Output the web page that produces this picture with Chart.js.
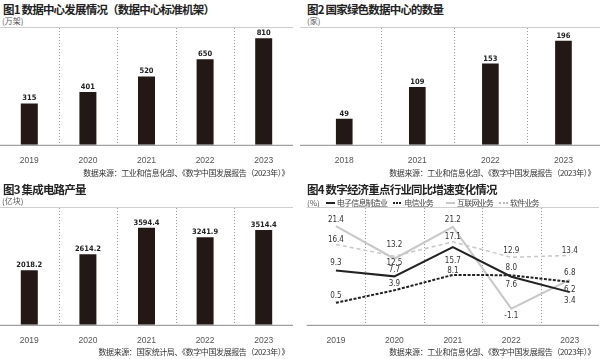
<!DOCTYPE html>
<html>
<head>
<meta charset="utf-8">
<script src="https://cdn.jsdelivr.net/npm/chart.js@4"></script>
<style>
  body { margin: 0; background: #fff; }
  #page { position: relative; width: 600px; height: 359px; overflow: hidden; font-family: "Noto Sans CJK SC", sans-serif; }
  canvas { position: absolute; }
  .title { position: absolute; font-size: 11.5px; font-weight: bold; color: #222; letter-spacing: -0.8px; line-height: 1; white-space: nowrap; }
  .unit { position: absolute; font-size: 8px; color: #555; line-height: 1; white-space: nowrap; }
  .source { position: absolute; font-size: 8px; color: #333; letter-spacing: -0.4px; line-height: 1; white-space: nowrap; text-align: right; }
  .legend { position: absolute; left: 307px; top: 197px; font-size: 8px; color: #444; line-height: 9px; white-space: nowrap; letter-spacing: -0.8px; }
  .legend span { display: inline-block; vertical-align: middle; }
  .swatch { width: 9px; height: 2px; margin: 0 2px 0 5px; }
</style>
</head>
<body>
<div id="page">
  <div class="title" style="left:3px; top:4px;">图1 数据中心发展情况（数据中心标准机架）</div>
  <div class="unit" style="left:2px; top:17px;">(万架)</div>
  <canvas id="c1" width="293" height="142" style="left:0; top:27px;"></canvas>
  <div class="source" style="right:311px; top:169px;">数据来源：工业和信息化部、《数字中国发展报告（2023年）》</div>

  <div class="title" style="left:307px; top:4px;">图2 国家绿色数据中心的数量</div>
  <div class="unit" style="left:307px; top:17px;">(家)</div>
  <canvas id="c2" width="300" height="142" style="left:300px; top:27px;"></canvas>
  <div class="source" style="right:5px; top:169px;">数据来源：工业和信息化部、《数字中国发展报告（2023年）》</div>

  <div class="title" style="left:3px; top:184px;">图3 集成电路产量</div>
  <div class="unit" style="left:2px; top:197px;">(亿块)</div>
  <canvas id="c3" width="293" height="142" style="left:0; top:207px;"></canvas>
  <div class="source" style="right:311px; top:348px;">数据来源：国家统计局、《数字中国发展报告（2023年）》</div>

  <div class="title" style="left:307px; top:184px;">图4 数字经济重点行业同比增速变化情况</div>
  <div class="legend">
    <span style="color:#555; letter-spacing:0;">(%)</span>
    <span class="swatch" style="background:#222;"></span><span>电子信息制造业</span>
    <span class="swatch" style="background:repeating-linear-gradient(90deg, #222 0 2px, transparent 2px 3px);"></span><span>电信业务</span>
    <span class="swatch" style="height:1.5px; background:#c8c8c8; margin-left:12px;"></span><span>互联网业务</span>
    <span class="swatch" style="height:1.5px; background:repeating-linear-gradient(90deg, #bbb 0 2px, transparent 2px 3.5px);"></span><span>软件业务</span>
  </div>
  <canvas id="c4" width="300" height="142" style="left:300px; top:207px;"></canvas>
  <div class="source" style="right:5px; top:348px;">数据来源：工业和信息化部、《数字中国发展报告（2023年）》</div>
</div>
<script>
// 图1 数据中心标准机架（万架）
const rackYears = ["2019", "2020", "2021", "2022", "2023"];
const rackValues = [315, 401, 520, 650, 810];

// 图2 国家绿色数据中心（家）
const greenYears = ["2018", "2021", "2022", "2023"];
const greenValues = [49, 109, 153, 196];

// 图3 集成电路产量（亿块）
const chipYears = ["2019", "2020", "2021", "2022", "2023"];
const chipValues = [2018.2, 2614.2, 3594.4, 3241.9, 3514.4];

// 图4 同比增速（%）
const growthYears = ["2019", "2020", "2021", "2022", "2023"];
const electronicMfg = [9.3, 7.7, 15.7, 7.6, 3.4];
const telecom = [0.5, 3.9, 8.1, 8.0, 6.2];
const internetBiz = [21.4, 12.5, 21.2, -1.1, 6.8];
const software = [16.4, 13.2, 17.1, 12.9, 13.4];

// label offsets (px) for chart 4, style only
const electronicDy = [-8, -6, 14, 8, 9];
const telecomDy = [-7, -6, -4, -7, 8];
const internetDy = [-6, 4, -7, 7, -7];
const softwareDy = [-5, -11, -5, -6, -5];

const BAR = "#231816";
const NARROW = '"Liberation Sans Narrow", "DejaVu Sans Condensed", sans-serif';

const panelDecor = {
    id: "panelDecor",
    beforeDatasetsDraw(chart, args, opts) {
        const ctx = chart.ctx, a = chart.chartArea, x = chart.scales.x;
        const left = opts.fullWidth ? 0 : a.left;
        ctx.save();
        ctx.lineWidth = 1;
        ctx.strokeStyle = "#cfcfcf";
        ctx.beginPath();
        ctx.moveTo(left, a.top + 0.5);
        ctx.lineTo(a.right, a.top + 0.5);
        ctx.stroke();

        ctx.strokeStyle = "#9a9a9a";
        ctx.setLineDash([1, 2]);
        for (let i = 0; i < x.ticks.length - 1; i++) {
            const px = Math.round((x.getPixelForTick(i) + x.getPixelForTick(i + 1)) / 2) + 0.5;
            ctx.beginPath();
            ctx.moveTo(px, a.top + 1);
            ctx.lineTo(px, a.bottom);
            ctx.stroke();
        }
        ctx.setLineDash([]);
        ctx.strokeStyle = "#8a8a8a";
        ctx.beginPath();
        ctx.moveTo(left, a.bottom + 0.5);
        ctx.lineTo(a.right, a.bottom + 0.5);
        ctx.stroke();
        ctx.restore();
    },
    afterDatasetsDraw(chart, args, opts) {
        const ctx = chart.ctx;
        ctx.save();
        ctx.textAlign = "center";
        ctx.textBaseline = "middle";
        ctx.font = opts.font;
        ctx.fillStyle = opts.color;
        chart.data.datasets.forEach((ds, di) => {
            chart.getDatasetMeta(di).data.forEach((el, i) => {
                const dy = ds.labelDy ? ds.labelDy[i] : -5;
                ctx.fillText(ds.data[i].toFixed(opts.decimals), el.x, el.y + dy);
            });
        });
        ctx.restore();
    }
};

function xAxis() {
    return {
        offset: true,
        grid: { display: false, offset: true },
        border: { display: false },
        ticks: { color: "#555", padding: 3, font: { family: "Liberation Sans", size: 8.5 } }
    };
}

function barChart(id, labels, values, max, barPct, decimals, pad, fullWidth) {
    return new Chart(document.getElementById(id), {
        type: "bar",
        data: {
            labels: labels,
            datasets: [{ data: values, backgroundColor: BAR, categoryPercentage: 1, barPercentage: barPct }]
        },
        options: {
            responsive: false,
            animation: false,
            layout: { padding: pad },
            scales: {
                x: xAxis(),
                y: { display: false, min: 0, max: max }
            },
            plugins: {
                legend: { display: false },
                tooltip: { enabled: false },
                panelDecor: {
                    decimals: decimals,
                    fullWidth: fullWidth,
                    font: "bold 7.5px " + NARROW,
                    color: "#222"
                }
            }
        },
        plugins: [panelDecor]
    });
}

barChart("c1", rackYears, rackValues, 896, 0.29, 0, { left: 0, right: 0, top: 0, bottom: 0 }, false);
barChart("c2", greenYears, greenValues, 222, 0.228, 0, { left: 7.7, right: 0, top: 0, bottom: 0 }, true);
barChart("c3", chipYears, chipValues, 4363, 0.29, 1, { left: 0, right: 0, top: 0, bottom: 0 }, false);

new Chart(document.getElementById("c4"), {
    type: "line",
    data: {
        labels: growthYears,
        datasets: [
            { label: "电子信息制造业", data: electronicMfg, borderColor: "#222", borderWidth: 2, labelDy: electronicDy },
            { label: "电信业务", data: telecom, borderColor: "#222", borderWidth: 2, borderDash: [3, 1.5], labelDy: telecomDy },
            { label: "互联网业务", data: internetBiz, borderColor: "#c8c8c8", borderWidth: 2, labelDy: internetDy },
            { label: "软件业务", data: software, borderColor: "#c8c8c8", borderWidth: 1.5, borderDash: [4, 3], labelDy: softwareDy }
        ]
    },
    options: {
        responsive: false,
        animation: false,
        layout: { padding: { left: 6.7, right: 1, top: 0, bottom: 0 } },
        elements: { point: { radius: 0 }, line: { tension: 0, fill: false } },
        scales: {
            x: xAxis(),
            y: { display: false, min: -5.5, max: 26.6 }
        },
        plugins: {
            legend: { display: false },
            tooltip: { enabled: false },
            panelDecor: {
                decimals: 1,
                fullWidth: false,
                font: "8px " + NARROW,
                color: "#333"
            }
        }
    },
    plugins: [panelDecor]
});
</script>
</body>
</html>
